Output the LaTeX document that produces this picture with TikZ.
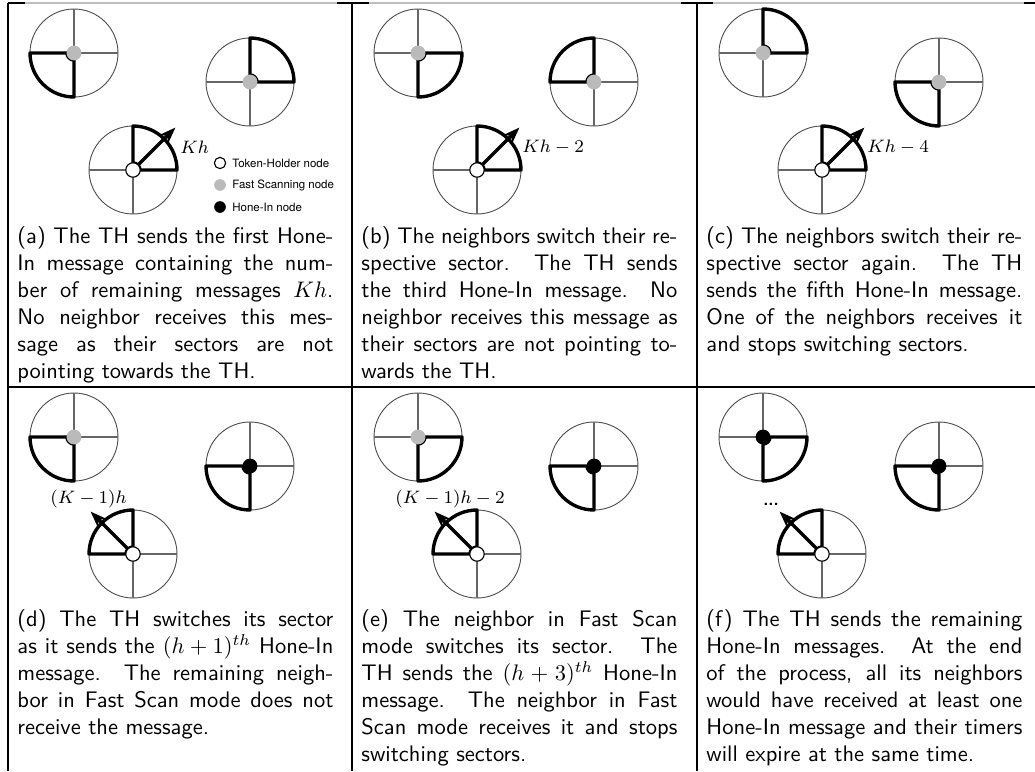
\documentclass[tikz,border=0pt]{standalone}
\usepackage{fontspec}
\newfontfamily\legendfont{TeX Gyre Heros}
\usetikzlibrary{calc,positioning,arrows.meta}

\tikzset{
  rim/.style={draw=black!70, line width=0.4pt},
  spoke/.style={draw=black!60, line width=0.5pt},
  sector/.style={draw=black, line width=1.5pt, line join=round},
  thnode/.style={circle, draw=black, line width=0.5pt, fill=white, minimum size=6.4pt, inner sep=0pt},
  fsnode/.style={circle, fill=black!27, minimum size=6.6pt, inner sep=0pt},
  hinode/.style={circle, fill=black, minimum size=6.6pt, inner sep=0pt},
  msgarrow/.style={line width=1.5pt, -{Stealth[length=7.5pt, width=5.5pt]}},
  sectorlabel/.style={inner sep=0pt, font=\fontsize{8}{9.6}\selectfont},
  legendtext/.style={inner sep=0pt, font=\legendfont\fontsize{5.1}{6}\selectfont},
  caption/.style={anchor=north west, inner sep=0pt, text width=140.4pt, align=justify,
    font=\sffamily\fontsize{10}{12}\selectfont},
  rule/.style={line width=0.5pt}
}

% one node with its four sectors, the active one drawn thick
\newcommand{\sectorwheel}[4]{% name, centre, start angle of active sector, node style
  \coordinate (#1) at #2;
  \draw[rim] (#1) circle[radius=44];
  \draw[spoke] ($(#1)+(-44,0)$) -- ($(#1)+(44,0)$);
  \draw[spoke] ($(#1)+(0,-44)$) -- ($(#1)+(0,44)$);
  \draw[sector] ($(#1)+(#3:7)$) -- ($(#1)+(#3:44)$)
    arc[start angle=#3, delta angle=90, radius=44]
    -- ($(#1)+(#3+90:7)$) arc[start angle=#3+90, delta angle=-90, radius=7] -- cycle;
  \node[#4] (#1dot) at (#1) {};
}

\begin{document}
\begin{tikzpicture}[x=0.4444pt, y=0.4444pt]
\useasboundingbox (0,0) rectangle (1035,-771);

% table rules
\draw[rule, black!25] (8,-3) -- (1035,-3);
\draw[rule] (8,-3) -- (25,-3);
\draw[rule] (337,-3) -- (369,-3);
\draw[rule] (681,-3) -- (713,-3);
\draw[rule] (1024,-3) -- (1035,-3);
\draw[rule] (8,-3) -- (8,-771);
\draw[rule] (352,-3) -- (352,-771);
\draw[rule] (697,-3) -- (697,-771);
\draw[rule] (8,-387) -- (1035,-387);

% (a)
\sectorwheel{wa1}{(74,-53)}{180}{fsnode}
\sectorwheel{wa2}{(250,-82)}{0}{fsnode}
\sectorwheel{tha}{(133,-170)}{0}{thnode}
\coordinate (thatip) at ($(tha)+(45:60)$);
\draw[msgarrow] (thadot) -- (thatip);
\node[sectorlabel, anchor=west] (laba) at (180,-147) {$Kh$};
% legend
\node[thnode, minimum size=5pt] (legth) at (220,-163) {};
\node[fsnode, minimum size=5.2pt] (legfs) at (220,-185) {};
\node[hinode, minimum size=5.2pt] (leghi) at (220,-207) {};
\node[legendtext, right=2.5pt of legth] (legthtext) {Token-Holder node};
\node[legendtext, right=2.5pt of legfs] (legfstext) {Fast Scanning node};
\node[legendtext, right=2.5pt of leghi] (leghitext) {Hone-In node};
\node[caption] (capa) at (17,-226) {(a) The TH sends the first Hone-\linebreak In message containing the num-\linebreak ber of remaining messages $Kh$.\linebreak No neighbor receives this mes-\linebreak sage as their sectors are not\linebreak pointing towards the TH.};

% (b)
\sectorwheel{wb1}{(418,-53)}{270}{fsnode}
\sectorwheel{wb2}{(594,-82)}{90}{fsnode}
\sectorwheel{thb}{(477,-170)}{0}{thnode}
\coordinate (thbtip) at ($(thb)+(45:60)$);
\draw[msgarrow] (thbdot) -- (thbtip);
\node[sectorlabel, anchor=west] (labb) at (522,-147) {$Kh-2$};
\node[caption] (capb) at (361,-226) {(b) The neighbors switch their re-\linebreak spective sector.  The TH sends\linebreak the third Hone-In message.  No\linebreak neighbor receives this message as\linebreak their sectors are not pointing to-\linebreak wards the TH.};

% (c)
\sectorwheel{wc1}{(763,-53)}{0}{fsnode}
\sectorwheel{wc2}{(939,-82)}{180}{fsnode}
\sectorwheel{thc}{(822,-170)}{0}{thnode}
\coordinate (thctip) at ($(thc)+(45:60)$);
\draw[msgarrow] (thcdot) -- (thctip);
\node[sectorlabel, anchor=west] (labc) at (867,-147) {$Kh-4$};
\node[caption] (capc) at (706,-226) {(c) The neighbors switch their re-\linebreak spective sector again.  The TH\linebreak sends the fifth Hone-In message.\linebreak One of the neighbors receives it\linebreak and stops switching sectors.};

% (d)
\sectorwheel{wd1}{(74,-437)}{180}{fsnode}
\sectorwheel{wd2}{(250,-466)}{180}{hinode}
\sectorwheel{thd}{(133,-554)}{90}{thnode}
\coordinate (thdtip) at ($(thd)+(135:60)$);
\draw[msgarrow] (thddot) -- (thdtip);
\node[sectorlabel, anchor=west] (labd) at (50,-499) {$(K-1)h$};
\node[caption] (capd) at (17,-609) {(d) The TH switches its sector\linebreak as it sends the $(h+1)^{th}$ Hone-In\linebreak message.  The remaining neigh-\linebreak bor in Fast Scan mode does not\linebreak receive the message.};

% (e)
\sectorwheel{we1}{(418,-437)}{270}{fsnode}
\sectorwheel{we2}{(594,-466)}{180}{hinode}
\sectorwheel{the}{(477,-554)}{90}{thnode}
\coordinate (thetip) at ($(the)+(135:60)$);
\draw[msgarrow] (thedot) -- (thetip);
\node[sectorlabel, anchor=west] (labe) at (395,-499) {$(K-1)h-2$};
\node[caption] (cape) at (361,-609) {(e) The neighbor in Fast Scan\linebreak mode switches its sector.  The\linebreak TH sends the $(h+3)^{th}$ Hone-In\linebreak message.  The neighbor in Fast\linebreak Scan mode receives it and stops\linebreak switching sectors.};

% (f)
\sectorwheel{wf1}{(763,-437)}{270}{hinode}
\sectorwheel{wf2}{(939,-466)}{180}{hinode}
\sectorwheel{thf}{(822,-554)}{90}{thnode}
\coordinate (thftip) at ($(thf)+(135:60)$);
\draw[msgarrow] (thfdot) -- (thftip);
\node[sectorlabel, font=\sffamily\bfseries\fontsize{7.5}{9}\selectfont] (labf) at (771,-504) {...};
\node[caption] (capf) at (706,-609) {(f) The TH sends the remaining\linebreak Hone-In messages.  At the end\linebreak of the process, all its neighbors\linebreak would have received at least one\linebreak Hone-In message and their timers\linebreak will expire at the same time.};
\end{tikzpicture}
\end{document}
